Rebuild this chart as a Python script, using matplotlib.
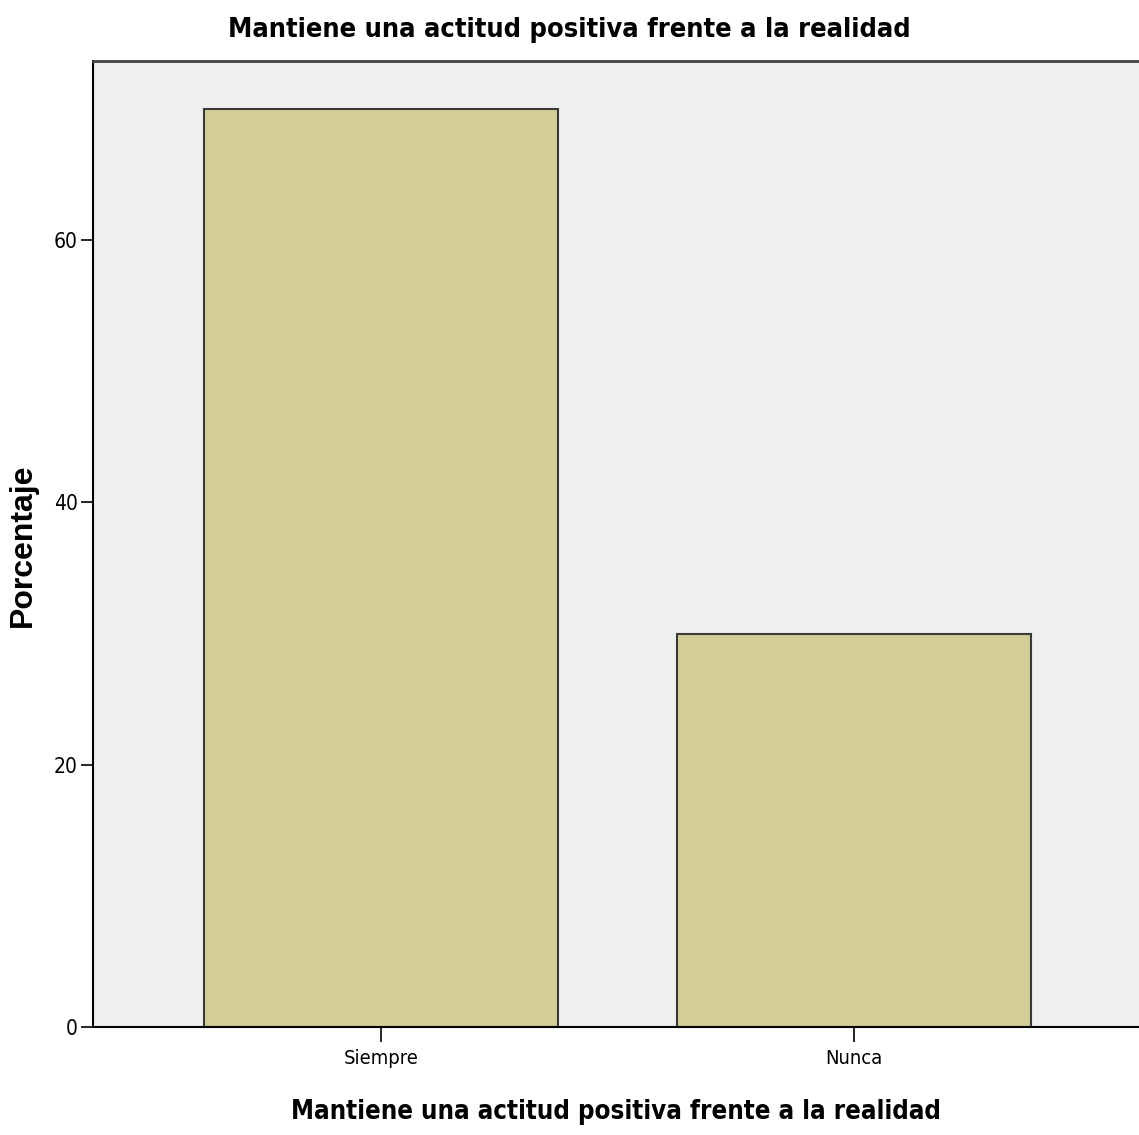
import matplotlib
matplotlib.use("Agg")
import matplotlib.pyplot as plt

categories = ["Siempre", "Nunca"]
values = [70, 30]
yticks = [0, 20, 40, 60]
title = "Mantiene una actitud positiva frente a la realidad"
xlabel = "Mantiene una actitud positiva frente a la realidad"
ylabel = "Porcentaje"

W, H = 1139, 1135
fig = plt.figure(figsize=(W / 100, H / 100), dpi=100)
fig.patch.set_facecolor("white")
ax = fig.add_axes([93 / W, 1 - 1027 / H, 1 - 93 / W, (1027 - 60.5) / H])
ax.set_facecolor("#efefef")

x = list(range(len(categories)))
ax.bar(x, values, width=0.75, color="#d3ce97", edgecolor="#3a3a3a", linewidth=1.5, zorder=2)

ax.set_xlim(-0.609, 1.603)
ax.set_ylim(0, 73.7)
ax.set_xticks(x)
ax.set_xticklabels(categories, family="DejaVu Sans", fontstretch="condensed", fontsize=14.5)
ax.set_yticks(yticks)
ax.set_yticklabels([str(v) for v in yticks], family="DejaVu Sans", fontstretch="condensed", fontsize=15)
ax.tick_params(axis="y", length=9, width=1.2, direction="out", pad=2)
ax.tick_params(axis="x", length=11, width=1.2, direction="out", pad=5)

for s in ["left", "bottom"]:
    ax.spines[s].set_color("black")
    ax.spines[s].set_linewidth(1.5)
ax.spines["top"].set_color("#444444")
ax.spines["top"].set_linewidth(2)
ax.spines["right"].set_visible(False)

fig.text(0.5, 1 - 30 / H, title, ha="center", va="center", fontsize=19.5, fontweight="bold",
         family="DejaVu Sans", fontstretch="condensed")
ax.set_xlabel(xlabel, fontsize=18.5, fontweight="bold", fontstretch="condensed",
              family="DejaVu Sans", labelpad=22)
ax.set_ylabel(ylabel, fontsize=23, fontweight="bold", family=["Liberation Sans", "DejaVu Sans"],
              va="center")
ax.yaxis.set_label_coords((23 - 93) / (W - 93), (1027 - 545) / (1027 - 60.5))

fig.savefig("out.png", dpi=100)
